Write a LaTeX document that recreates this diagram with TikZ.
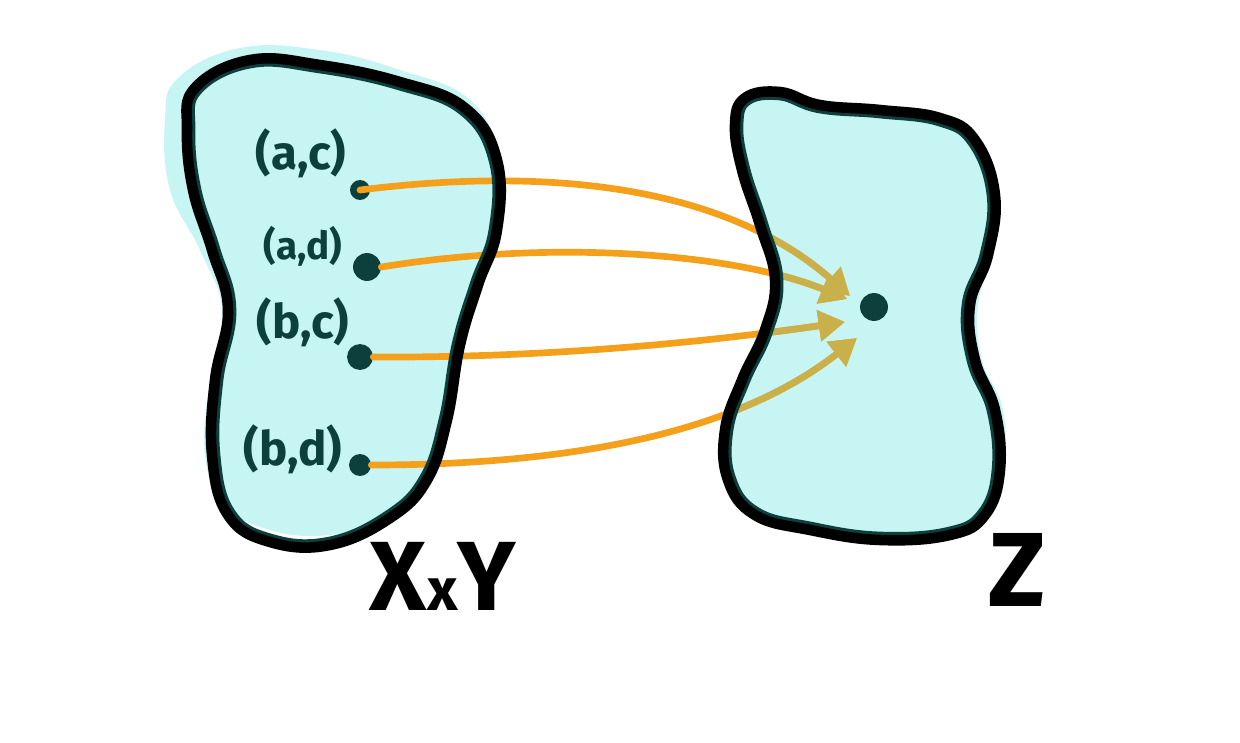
\documentclass[tikz,border=0pt]{standalone}
\usepackage{fontspec}
\setmainfont{Fira Sans}
\usetikzlibrary{arrows.meta}
\definecolor{cyanfill}{HTML}{C6F5F3}
\definecolor{darkteal}{HTML}{0D403D}
\definecolor{arroworange}{HTML}{F5A01A}
\definecolor{khaki}{HTML}{C9B04B}
\begin{document}
\begin{tikzpicture}[x=0.02cm,y=-0.02cm,
  dot/.style={circle,fill=darkteal,inner sep=0pt},
  lbl/.style={text=darkteal,font=\bfseries\fontsize{27}{27}\selectfont,inner sep=0pt},
  big/.style={text=black,inner sep=0pt},
  arr/.style={line width=3.8pt,line cap=round,-{Triangle[length=15pt,width=17pt]}},
  outline/.style={line width=6pt,black}]
\useasboundingbox[fill=white] (0,0) rectangle (1240,743);
\def\leftblob{plot[smooth cycle,tension=0.7] coordinates {(195,88) (250,60) (320,65) (400,82) (465,108) (497,160) (497,230) (478,285) (460,345) (447,420) (427,480) (390,518) (330,545) (270,542) (228,515) (212,455) (215,380) (228,310) (212,250) (193,190) (187,130)}}
\def\leftfill{plot[smooth cycle,tension=0.7] coordinates {(178,78) (240,48) (320,50) (400,70) (470,100) (500,160) (497,230) (480,285) (462,345) (450,420) (432,480) (395,518) (330,535) (270,530) (225,505) (205,455) (210,380) (222,310) (200,250) (170,190) (165,120)}}
\def\rightblob{plot[smooth cycle,tension=0.7] coordinates {(745,98) (780,92) (820,105) (880,110) (940,118) (975,140) (995,195) (988,255) (970,305) (975,360) (995,410) (1000,470) (985,515) (950,535) (880,540) (810,530) (755,515) (728,480) (725,430) (742,380) (765,330) (775,280) (760,225) (742,170) (735,125)}}
\def\rightfill{plot[smooth cycle,tension=0.7] coordinates {(748,100) (780,95) (820,105) (880,110) (940,118) (978,140) (998,195) (992,255) (978,305) (982,360) (1003,410) (1003,470) (988,515) (950,532) (880,537) (810,528) (755,512) (730,480) (728,430) (745,380) (768,330) (778,280) (763,225) (745,170) (738,125)}}
% fills
\fill[cyanfill] \leftfill;
\fill[cyanfill] \rightfill;
% dots
\node[dot,minimum size=20pt*0.567] (ac) at (360,190) {};
\node[dot,minimum size=28pt*0.567] (ad) at (367,267) {};
\node[dot,minimum size=26pt*0.567] (bc) at (360,357) {};
\node[dot,minimum size=22pt*0.567] (bd) at (360,465) {};
\node[dot,minimum size=28pt*0.567] (zd) at (874,307) {};
\coordinate (t1) at (850,296);
\coordinate (t2) at (847,299);
\coordinate (t3) at (845,322);
\coordinate (t4) at (857,338);
% arrows (orange)
\def\arrows{
\draw[arr] (ac.center) .. controls (560,165) and (730,190) .. (t1);
\draw[arr] (ad.east) .. controls (560,238) and (740,255) .. (t2);
\draw[arr] (bc.east) .. controls (560,358) and (720,340) .. (t3);
\draw[arr] (bd.east) .. controls (580,465) and (740,430) .. (t4);
}
\begin{scope}[color=arroworange]
\arrows
\end{scope}
\begin{scope}
\clip \rightblob;
\begin{scope}[color=khaki]
\arrows
\end{scope}
\end{scope}
% outlines with inner teal band
\begin{scope}
\clip \leftblob;
\draw[line width=9.5pt,darkteal] \leftblob;
\end{scope}
\draw[outline] \leftblob;
\begin{scope}
\clip \rightblob;
\draw[line width=9.5pt,darkteal] \rightblob;
\end{scope}
\draw[outline] \rightblob;
% labels
\node[lbl] (lac) at (301,153) {(a,c)};
\node[lbl,font=\bfseries\fontsize{22}{22}\selectfont] (lad) at (303,246) {(a,d)};
\node[lbl] (lbc) at (303,322) {(b,c)};
\node[lbl] (lbd) at (293,449) {(b,d)};
\node[big,font=\bfseries\fontsize{56}{56}\selectfont,anchor=base] (xy) at (443,610) {X{\fontsize{34}{34}\selectfont x}Y};
\node[big,font=\bfseries\fontsize{60}{60}\selectfont,anchor=base] (z) at (1017,606) {Z};
\end{tikzpicture}
\end{document}
